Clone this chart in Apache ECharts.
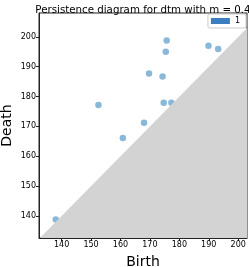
<!DOCTYPE html>
<html>
<head>
<meta charset="utf-8">
<script src="https://cdn.jsdelivr.net/npm/echarts@6/dist/echarts.min.js"></script>
<style>html,body{margin:0;padding:0;background:#fff}#c{width:249px;height:267px}</style>
</head>
<body>
<div id="c"></div>
<script>
var titleText = 'Persistence diagram for dtm with m = 0.4';
var seriesName = '1';
var birth = [138, 152.5, 160.8, 168, 169.7, 174.3, 174.7, 175.4, 175.7, 177.3, 189.9, 193.2];
var death = [138.8, 177.2, 166.1, 171.2, 187.7, 186.7, 177.9, 195, 198.8, 177.9, 197, 195.9];
var xTicks = [140, 150, 160, 170, 180, 190, 200];
var yTicks = [140, 150, 160, 170, 180, 190, 200];
var xRange = [132.3, 203];
var yRange = [132.6, 208];

var pts = birth.map(function (b, i) { return [b, death[i]]; });
var diag = [[yRange[0], yRange[0]], [xRange[1], xRange[1]]];
var font = 'DejaVu Sans';
var chart = echarts.init(document.getElementById('c'));
chart.setOption({
  animation: false,
  title: {
    text: titleText, left: 138, textAlign: 'center', top: 0,
    textStyle: {fontFamily: font, fontSize: 10.25, fontWeight: 'normal', color: '#000'}
  },
  legend: {
    data: [{name: seriesName, icon: 'rect', itemStyle: {color: '#3a7fbf', opacity: 1}}],
    right: 3, top: 14, orient: 'vertical',
    itemWidth: 19, itemHeight: 6, itemGap: 2,
    padding: [3, 6, 3, 3],
    borderColor: '#ccc', borderWidth: 1, borderRadius: 2,
    textStyle: {fontFamily: font, fontSize: 8, color: '#000'}
  },
  grid: {left: 39, right: 2, top: 13, bottom: 29, show: true, borderColor: '#222', borderWidth: 1, containLabel: false, outerBoundsMode: 'none'},
  xAxis: {
    type: 'value', min: xRange[0], max: xRange[1],
    name: 'Birth', nameLocation: 'middle', nameGap: 17,
    nameTextStyle: {fontFamily: font, fontSize: 14, color: '#000'},
    axisLine: {show: true, lineStyle: {color: '#222', width: 1}},
    axisTick: {show: true, length: 3, lineStyle: {color: '#222'}, customValues: xTicks},
    axisLabel: {fontFamily: font, fontSize: 8, color: '#000', margin: 3, customValues: xTicks},
    splitLine: {show: false}
  },
  yAxis: {
    type: 'value', min: yRange[0], max: yRange[1],
    name: 'Death', nameLocation: 'middle', nameGap: 25, nameMoveOverlap: false,
    nameTextStyle: {fontFamily: font, fontSize: 14, color: '#000'},
    axisLine: {show: true, lineStyle: {color: '#222', width: 1}},
    axisTick: {show: true, length: 3, lineStyle: {color: '#222'}, customValues: yTicks},
    axisLabel: {fontFamily: font, fontSize: 8, color: '#000', margin: 3, customValues: yTicks},
    splitLine: {show: false}
  },
  series: [
    {
      name: seriesName, type: 'scatter', data: pts, symbolSize: 6.5,
      itemStyle: {color: 'rgba(31,119,180,0.65)'}, z: 2
    },
    {
      type: 'line', data: diag, symbol: 'none', silent: true,
      lineStyle: {width: 0}, areaStyle: {color: '#d3d3d3', opacity: 1, origin: 'start'},
      z: 3
    }
  ]
});
</script>
</body>
</html>
